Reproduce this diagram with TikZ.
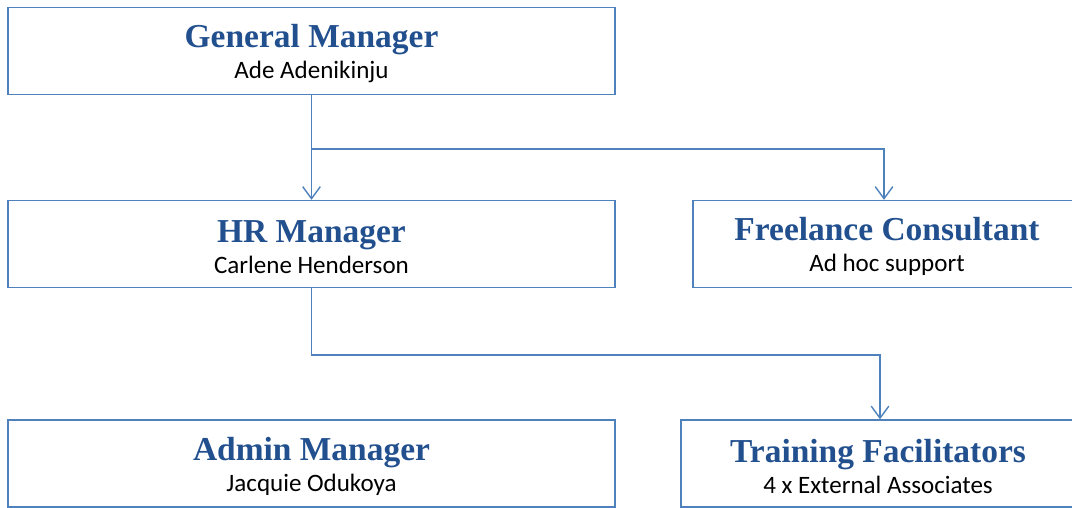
\documentclass[tikz,border=0pt]{standalone}
\usepackage{fontspec}
\setmainfont{Carlito}
\newfontfamily\headfont{Liberation Serif}
\usetikzlibrary{arrows.meta,positioning}
\definecolor{rule}{HTML}{4F81BD}
\definecolor{navy}{HTML}{22508F}

\begin{document}
\begin{tikzpicture}[
  font=\fontsize{17.8}{22}\selectfont, text=black,
  post/.style={draw=rule,line width=1.1pt,fill=white,align=center,minimum height=2.17cm,inner sep=0pt},
  link/.style={-{Straight Barb[length=3mm,width=4.4mm]},draw=rule,line width=1pt},
]
\useasboundingbox (0,0) rectangle (26.8,-12.675);

\foreach \x/\y/\w/\id/\title/\detail in {
7.7875/-1.275/15.175/gm/General Manager/Ade Adenikinju,
7.7875/-6.1/15.175/hr/HR Manager/Carlene Henderson,
22.175/-6.1/9.7/freelance/Freelance Consultant/Ad hoc support,
7.7875/-11.5875/15.175/admin/Admin Manager/Jacquie Odukoya,
21.95/-11.5875/9.85/training/Training Facilitators/4 x External Associates}
  \node[post,minimum width=\w cm] (\id) at (\x,\y) {{\headfont\fontsize{23.8}{22}\selectfont\bfseries\color{navy}\rule{0pt}{20.5pt}\title}\\\detail};

\draw[link] (gm) -- (hr);
\draw[link] (gm.south) -- ++(0,-1.35) -| ([xshift=-.075cm]freelance.north);
\draw[link] (hr.south) -- ++(0,-1.675) -| ([xshift=.05cm]training.north);
\end{tikzpicture}
\end{document}
